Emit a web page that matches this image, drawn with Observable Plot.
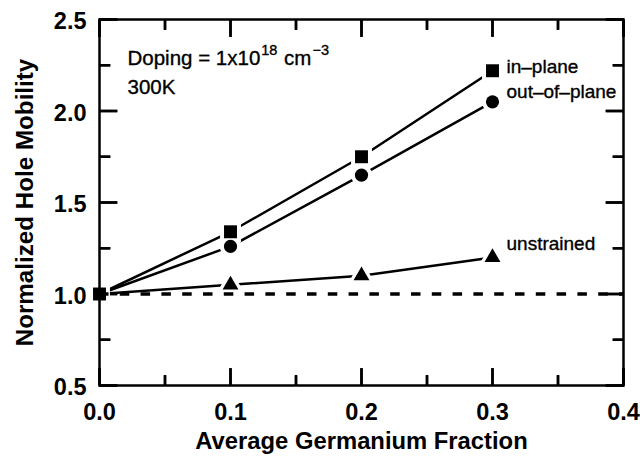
<!DOCTYPE html>
<html>
<head>
<meta charset="utf-8">
<script src="https://cdn.jsdelivr.net/npm/d3@7"></script>
<script src="https://cdn.jsdelivr.net/npm/@observablehq/plot@0.6"></script>
<style>
  body { margin: 0; background: #fff; }
  #chart svg { display: block; }
</style>
</head>
<body>
<div id="chart"></div>
<script>
// Hole mobility (normalized to unstrained Si) versus Ge fraction
const geFraction = [0, 0.1, 0.2, 0.3];
const inPlane = [1.0, 1.34, 1.75, 2.22];
const outOfPlane = [1.0, 1.26, 1.65, 2.05];
const unstrained = [1.0, 1.05, 1.10, 1.20];
const seriesNames = ["in–plane", "out–of–plane", "unstrained"];
const seriesSymbols = ["square", "circle", "triangle"];

const xDomain = [0, 0.4];
const yDomain = [0.5, 2.5];
const xTicks = [0, 0.1, 0.2, 0.3, 0.4];
const xMinorTicks = [0.05, 0.15, 0.25, 0.35];
const yTicks = [0.5, 1.0, 1.5, 2.0, 2.5];
const yMinorTicks = [0.75, 1.25, 1.75, 2.25];
const referenceLevel = [1.0];

// Annotation pieces: base text and raised exponents
const dopingBase = ["Doping = 1x10", " cm"];
const dopingExponents = ["18", "−3"];
const temperatureText = "300K";
const xTitle = "Average Germanium Fraction";
const yTitle = "Normalized Hole Mobility";

// Long-format table built from the arrays above
const seriesValues = [inPlane, outOfPlane, unstrained];
const series = seriesNames.map((name, i) => ({
  name,
  symbol: seriesSymbols[i],
  rows: geFraction.map((x, j) => ({x, y: seriesValues[i][j], series: name}))
}));

// Marker sizes per symbol (marker radius, and radius of the white gap around it)
const markerStyle = {
  square: {r: 7.3, halo: 11.8},
  circle: {r: 6.6, halo: 10.6},
  triangle: {r: 5.9, halo: 10.2}
};
// Label offsets (px) from the last point of each series
const labelStyle = {
  "in–plane": {dx: 14, dy: 2},
  "out–of–plane": {dx: 14, dy: -4},
  "unstrained": {dx: 14, dy: -7}
};

const W = 640, H = 459;
const M = {top: 19, right: 17, bottom: 74, left: 99};
const plotW = W - M.left - M.right;
const plotH = H - M.top - M.bottom;
const majorLen = 17, minorLen = 10;
const tickStroke = {stroke: "black", strokeWidth: 2.5};
const annotationSize = 20.5, exponentSize = 14.5, labelSize = 19;
const fontStack = "'Liberation Sans', Arial, sans-serif";

// Tick lengths in data units, so the tick segments go through the scales
const perPxX = (xDomain[1] - xDomain[0]) / plotW;
const perPxY = (yDomain[1] - yDomain[0]) / plotH;
const xTickSegs = (ticks, len) => ticks.flatMap(v => [
  {x1: v, x2: v, y1: yDomain[0], y2: yDomain[0] + len * perPxY},
  {x1: v, x2: v, y1: yDomain[1], y2: yDomain[1] - len * perPxY}
]);
const yTickSegs = (ticks, len) => ticks.flatMap(v => [
  {y1: v, y2: v, x1: xDomain[0], x2: xDomain[0] + len * perPxX},
  {y1: v, y2: v, x1: xDomain[1], x2: xDomain[1] - len * perPxX}
]);

// Horizontal offsets of the annotation pieces, from measured text widths
const ctx = document.createElement("canvas").getContext("2d");
const measure = (text, size) => { ctx.font = `${size}px ${fontStack}`; return ctx.measureText(text).width; };
const annotationX0 = 28;
const pieces = [];
{
  let x = annotationX0;
  for (let i = 0; i < dopingBase.length; i++) {
    pieces.push({text: dopingBase[i], dx: x, sup: false});
    x += measure(dopingBase[i], annotationSize) + 1;
    pieces.push({text: dopingExponents[i], dx: x, sup: true});
    x += measure(dopingExponents[i], exponentSize) + 1;
  }
}

const marks = [];

// Inward tick marks on all four sides of the frame
const tickSegs = [
  ...xTickSegs(xTicks, majorLen), ...xTickSegs(xMinorTicks, minorLen),
  ...yTickSegs(yTicks, majorLen + 1), ...yTickSegs(yMinorTicks, minorLen + 1)
];
marks.push(Plot.link(tickSegs, {x1: "x1", x2: "x2", y1: "y1", y2: "y2", ...tickStroke}));

// The same inward ticks drawn by the axis marks (negative tick size points inward)
const blank = () => "";
const tickAxis = {tickFormat: blank, label: null, strokeWidth: 2.5, stroke: "black"};
marks.push(
  Plot.axisX({anchor: "bottom", ticks: xTicks, tickSize: -majorLen, ...tickAxis}),
  Plot.axisX({anchor: "bottom", ticks: xMinorTicks, tickSize: -minorLen, ...tickAxis}),
  Plot.axisX({anchor: "top", ticks: xTicks, tickSize: -majorLen, ...tickAxis}),
  Plot.axisX({anchor: "top", ticks: xMinorTicks, tickSize: -minorLen, ...tickAxis}),
  Plot.axisY({anchor: "left", ticks: yTicks, tickSize: -(majorLen + 1), ...tickAxis}),
  Plot.axisY({anchor: "left", ticks: yMinorTicks, tickSize: -(minorLen + 1), ...tickAxis}),
  Plot.axisY({anchor: "right", ticks: yTicks, tickSize: -(majorLen + 1), ...tickAxis}),
  Plot.axisY({anchor: "right", ticks: yMinorTicks, tickSize: -(minorLen + 1), ...tickAxis})
);

// Series lines
for (const s of series) {
  marks.push(Plot.line(s.rows, {x: "x", y: "y", stroke: "black", strokeWidth: 2.5}));
}

// White halos leave a small gap between the lines and the markers
for (const s of series) {
  const rows = s.symbol === "square" ? s.rows : s.rows.filter(d => d.x > 0);
  marks.push(Plot.dot(rows, {
    x: "x", y: "y", symbol: s.symbol, r: markerStyle[s.symbol].halo, fill: "white"
  }));
}

// Unstrained reference level
marks.push(Plot.ruleY(referenceLevel, {y: d => d, stroke: "black", strokeWidth: 3.5, strokeDasharray: "9.5,11.3"}));

// Markers (the shared origin point is drawn once, as a square)
for (const s of [...series].reverse()) {
  const rows = s.symbol === "square" ? s.rows : s.rows.filter(d => d.x > 0);
  marks.push(Plot.dot(rows, {
    x: "x", y: "y", symbol: s.symbol, r: markerStyle[s.symbol].r, fill: "black"
  }));
}

// Series labels beside the last point
for (const s of series) {
  const last = s.rows[s.rows.length - 1];
  marks.push(Plot.text([last], {
    x: "x", y: "y", text: d => d.series,
    dx: labelStyle[s.name].dx, dy: labelStyle[s.name].dy,
    textAnchor: "start", lineAnchor: "bottom",
    fontSize: labelSize, fill: "black", stroke: "black", strokeWidth: 0.35
  }));
}

// Conditions annotation
for (const p of pieces) {
  marks.push(Plot.text([p.text], {
    text: d => d, frameAnchor: "top-left", dx: p.dx, dy: p.sup ? 35 : 45,
    textAnchor: "start", lineAnchor: "bottom",
    fontSize: p.sup ? exponentSize : annotationSize, fill: "black", stroke: "black", strokeWidth: 0.35
  }));
}
marks.push(Plot.text([temperatureText], {
  text: d => d, frameAnchor: "top-left", dx: annotationX0, dy: 74,
  textAnchor: "start", lineAnchor: "bottom",
  fontSize: annotationSize, fill: "black", stroke: "black", strokeWidth: 0.35
}));

// Tick labels and axis titles
marks.push(
  Plot.axisX({ticks: xTicks, tickSize: 0, tickPadding: 18, tickFormat: d3.format(".1f"),
    fontSize: 23.5, fontWeight: "bold", label: null}),
  Plot.axisY({ticks: yTicks, tickSize: 0, tickPadding: 13, tickFormat: d3.format(".1f"),
    fontSize: 23.5, fontWeight: "bold", dy: 2, label: null}),
  Plot.text([xTitle], {text: d => d, frameAnchor: "bottom", dy: 63, lineAnchor: "bottom",
    textAnchor: "middle", fontSize: 23.8, fontWeight: "bold"}),
  Plot.text([yTitle], {text: d => d, frameAnchor: "left", dx: -74, rotate: -90,
    lineAnchor: "middle", textAnchor: "middle", fontSize: 24.2, fontWeight: "bold"}),
  Plot.frame({stroke: "black", strokeWidth: 2.5})
);

const chart = Plot.plot({
  width: W,
  height: H,
  marginTop: M.top,
  marginRight: M.right,
  marginBottom: M.bottom,
  marginLeft: M.left,
  style: {fontFamily: fontStack, background: "white", color: "black"},
  x: {domain: xDomain, axis: null},
  y: {domain: yDomain, axis: null},
  marks
});

document.getElementById("chart").append(chart);
</script>
</body>
</html>
